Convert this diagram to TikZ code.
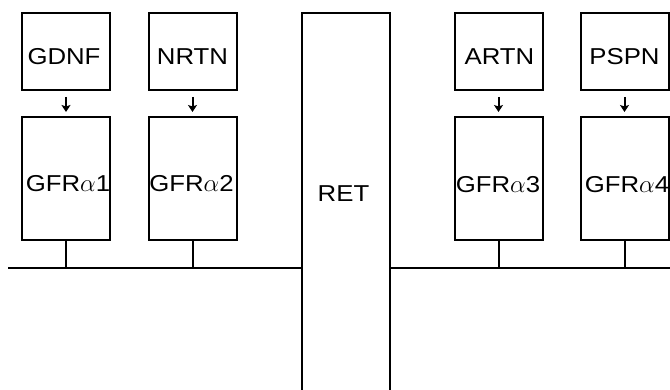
\documentclass[tikz,border=0pt]{standalone}
\usepackage{fontspec}
\setmainfont{Liberation Sans}[FakeStretch=1.12]
\usetikzlibrary{arrows.meta}
\begin{document}
\begin{tikzpicture}[x=1pt,y=-1pt,
  box/.style={draw=black,line width=2pt,minimum width=88pt,inner sep=0pt,fill=white},
  ligand/.style={box,minimum height=77pt},
  receptor/.style={box,minimum height=123pt},
  lbl/.style={anchor=base,inner sep=0pt,font=\fontsize{23}{26}\selectfont},
  link/.style={line width=2pt},
  bind/.style={line width=2pt,-{Stealth[length=7pt,width=9pt,inset=1.5pt]}}]
\useasboundingbox[fill=white] (0,0) rectangle (670,390);
% ligands
\node[ligand] (gdnf) at (66,51.5) {};
\node[ligand] (nrtn) at (192.5,51.5) {};
\node[ligand] (artn) at (498.5,51.5) {};
\node[ligand] (pspn) at (624.5,51.5) {};
% receptors
\node[receptor] (gfr1) at (66,178.5) {};
\node[receptor] (gfr2) at (192.5,178.5) {};
\node[receptor] (gfr3) at (498.5,178.5) {};
\node[receptor] (gfr4) at (624.5,178.5) {};
% RET
\node[box,minimum height=390pt] (ret) at (345.5,208) {};
% labels
\node[lbl] (tgdnf) at (64,65) {GDNF};
\node[lbl] (tnrtn) at (192.5,65) {NRTN};
\node[lbl] (tartn) at (499.5,65) {ARTN};
\node[lbl] (tpspn) at (624.5,65) {PSPN};
\node[lbl] (tg1) at (68,192) {GFR$\alpha$1};
\node[lbl] (tg2) at (191.5,192) {GFR$\alpha$2};
\node[lbl] (tg3) at (498,193) {GFR$\alpha$3};
\node[lbl] (tg4) at (627,193) {GFR$\alpha$4};
\node[lbl] (tret) at (343.5,202) {RET};
% binding arrows
\foreach \a/\b in {gdnf/gfr1,nrtn/gfr2,artn/gfr3,pspn/gfr4}{
  \draw[bind] ([yshift=-6pt]\a.south) -- ([yshift=4pt]\b.north);
}
% membrane
\coordinate (mL) at (8,268);
\coordinate (mR) at (670,268);
\draw[link] (mL) -- (ret.west |- mL);
\draw[link] (ret.east |- mL) -- (mR);
% stems
\foreach \r in {gfr1,gfr2,gfr3,gfr4}{
  \draw[link] (\r.south) -- (\r.south |- mL);
}
\end{tikzpicture}
\end{document}
